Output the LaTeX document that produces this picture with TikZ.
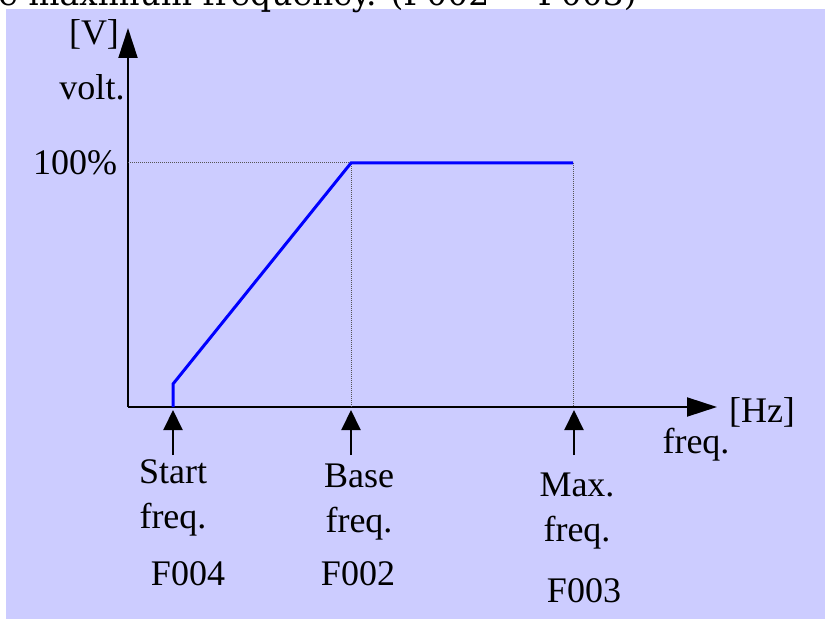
\documentclass[tikz,border=0pt]{standalone}
\usepackage{fontspec}
\setmainfont{Liberation Serif}
\newfontfamily\titlefont{DejaVu Serif}
\usetikzlibrary{arrows.meta}
\definecolor{panelback}{HTML}{CCCCFF}
\definecolor{curveblue}{HTML}{0000FF}
\definecolor{guidegray}{HTML}{555555}
\tikzset{
  axis/.style={line width=2pt,-{Triangle[length=30pt,width=19pt]}},
  marker/.style={line width=2pt,-{Triangle[length=20pt,width=19pt]}},
  guide/.style={draw=guidegray,line width=1pt,dash pattern=on 1pt off 1pt},
  curve/.style={draw=curveblue,line width=3pt,line join=miter},
  lbl/.style={inner sep=0pt,font=\fontsize{36}{45}\selectfont,align=center}
}
\begin{document}
\begin{tikzpicture}[x=1pt,y=-1pt]
\useasboundingbox (0,0) rectangle (825,623);
\fill[panelback] (6,9) rectangle (825,619);
\node[anchor=base east,inner sep=0pt,font=\titlefont\fontsize{33}{38}\selectfont] (title) at (637,6) {the maximum frequency. (F002 \textasciitilde{} F003)};
% axes
\coordinate (O) at (128,407);
\coordinate (ytip) at (128,28);
\coordinate (xtip) at (717,407);
\draw[axis] (O) -- (ytip);
\draw[axis] (O) -- (xtip);
\node[lbl,anchor=base] (vunit) at (94,45) {[V]};
\node[lbl,anchor=base] (vname) at (92,100) {volt.};
\node[lbl,anchor=base] (hzunit) at (762,422) {[Hz]};
\node[lbl,anchor=base] (fname) at (696,453) {freq.};
\node[lbl,anchor=base] (full) at (75,175) {100\%};
% v/f curve
\coordinate (hundred) at (128,163);
\coordinate (s0) at (173,407);
\coordinate (s1) at (173,384);
\coordinate (b1) at (351,163);
\coordinate (b0) at (351,407);
\coordinate (m1) at (573,163);
\coordinate (m0) at (573,407);
\draw[guide] (hundred) -- (b1) -- (b0);
\draw[guide] (m1) -- (m0);
\draw[curve] (s0) -- (s1) -- (b1) -- (m1);
% markers
\coordinate (sTip) at (173,410);
\coordinate (sTail) at (173,455);
\coordinate (bTip) at (351,410);
\coordinate (bTail) at (351,455);
\coordinate (mTip) at (574,410);
\coordinate (mTail) at (574,455);
\draw[marker] (sTail) -- (sTip);
\draw[marker] (bTail) -- (bTip);
\draw[marker] (mTail) -- (mTip);
\node[lbl,anchor=north] (startlbl) at (173,459) {Start\\freq.};
\node[lbl,anchor=north] (baselbl) at (359,464) {Base\\freq.};
\node[lbl,anchor=north] (maxlbl) at (577,473) {Max.\\freq.};
\node[lbl,anchor=base] (startcode) at (188,585) {F004};
\node[lbl,anchor=base] (basecode) at (358,585) {F002};
\node[lbl,anchor=base] (maxcode) at (584,602) {F003};
\end{tikzpicture}
\end{document}
